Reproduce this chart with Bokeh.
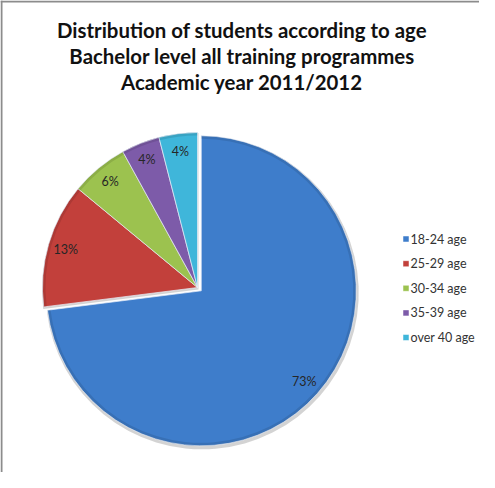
import numpy as np
from bokeh.plotting import figure
from bokeh.models import Range1d, Span
from bokeh.core.properties import value
from bokeh.embed import file_html
from bokeh.resources import INLINE

# ---- data ----
categories = ["18-24 age", "25-29 age", "30-34 age", "35-39 age", "over 40 age"]
shares = [73, 13, 6, 4, 4]
pct_labels = [f"{v}%" for v in shares]
title_lines = ["Distribution of students according to age",
               "Bachelor level all training programmes",
               "Academic year 2011/2012"]

# ---- styles ----
colors = ["#3E7DCB", "#C2403B", "#9CC24F", "#7D5BA9", "#3FB6DA"]
explode = [5, 0, 0, 0, 0]

W, H = 479, 472
p = figure(width=W, height=H, x_range=Range1d(0, W), y_range=Range1d(0, H),
           output_backend="svg", toolbar_location=None, min_border=0)
p.axis.visible = False
p.grid.visible = False
p.outline_line_color = None
p.background_fill_color = "white"

# frame (left and top only, as in the reference)
p.add_layout(Span(location=1, dimension="height", line_color="#8c8c8c", line_width=2))
p.add_layout(Span(location=H - 1, dimension="width", line_color="#8c8c8c", line_width=2))

# pie geometry
CX, CY, R = 197, 185, 155
cum = np.concatenate([[0], np.cumsum(shares)]) / 100.0 * 360.0
start = np.radians(90 - cum[1:])
end = np.radians(90 - cum[:-1])
mid = (start + end) / 2
ex = np.array(explode, dtype=float)
cx = CX + ex * np.cos(mid)
cy = CY + ex * np.sin(mid)

# soft shadow
p.wedge(x=cx + 1, y=cy - 2, radius=R + 1.5, start_angle=start, end_angle=end,
        fill_color="#808080", fill_alpha=0.35, line_color=None)
p.wedge(x=cx, y=cy, radius=R, start_angle=start, end_angle=end,
        fill_color=colors, line_color="#e8eef8", line_width=1, line_alpha=0.7)
# darker rim for a bevel-like look
p.annular_wedge(x=cx, y=cy, inner_radius=R - 3, outer_radius=R, start_angle=start,
                end_angle=end, fill_color="black", fill_alpha=0.10, line_color=None)

lr = 0.885 * R
p.text(x=cx + lr * np.cos(mid), y=cy + lr * np.sin(mid), text=pct_labels,
       text_align="center", text_baseline="middle", text_font=value("Lato"),
       text_font_size="12.5px", text_color="#262626")

# title
ty = [H - (37 - 8), H - (63 - 8), H - (89 - 8)]
p.text(x=[W / 2 + 2] * 3, y=ty, text=title_lines, text_align="center",
       text_baseline="alphabetic", text_font=value("Lato"), text_font_size="20.4px",
       text_font_style="bold", text_color="#111111")

# legend
ly = H - (np.array([246.5, 271.2, 295.8, 320.4, 345.0]) - 8)
lx = 413.5 - 8
p.rect(x=[lx] * 5, y=ly, width=6, height=6, fill_color=colors,
       line_color="#ffffff", line_width=0.5)
p.text(x=[lx + 4.5] * 5, y=ly, text=categories, text_align="left",
       text_baseline="middle", text_font=value("Lato"), text_font_size="12.5px",
       text_color="#333333")

open("out.html", "w").write(file_html(p, INLINE))
